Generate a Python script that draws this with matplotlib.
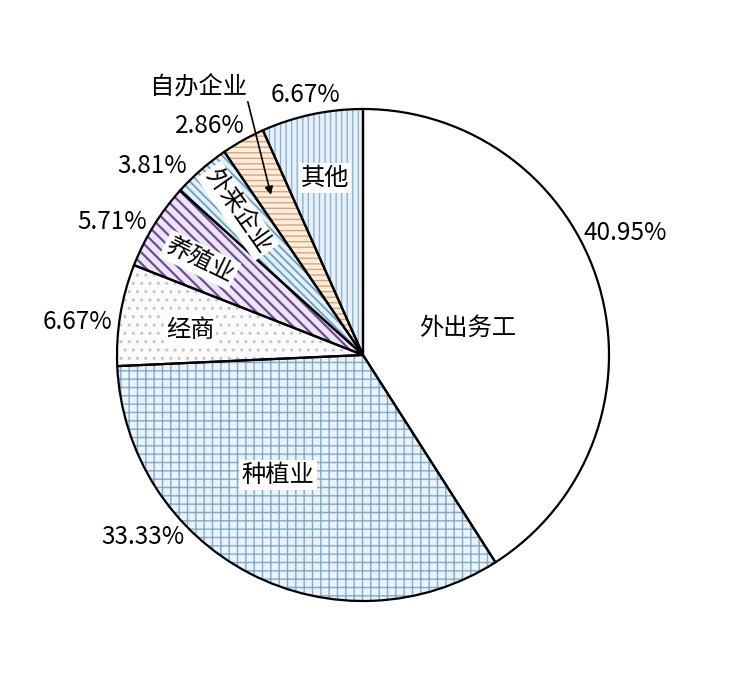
import matplotlib.pyplot as plt

plt.rcParams['font.family'] = ['Noto Sans CJK SC', 'DejaVu Sans']
plt.rcParams['hatch.linewidth'] = 1.0

# dati
categorie = ["外出务工", "种植业", "经商", "养殖业", "外来企业", "自办企业", "其他"]
quote = [40.95, 33.33, 6.67, 5.71, 3.81, 2.86, 6.67]
etichette_pct = ["40.95%", "33.33%", "6.67%", "5.71%", "3.81%", "2.86%", "6.67%"]

# stile fette
sfondi = ["white", "#eaf3fa", "#fbfbfb", "#efe6f5", "#e4f1f8", "#fbeee0", "#e6f0f8"]
col_tratteggio = ["white", "#7fa9cc", "#c4c4c4", "#6e4a9e", "#6d9fc6", "#e0a26e", "#8fb4d2"]
tratteggi = [None, "++", "..", "\\\\\\", "\\\\\\\\", "---", "|||"]
spessori = [1.0, 1.0, 1.0, 1.6, 1.3, 1.0, 1.0]

# geometria in pixel della torta nel riferimento
W, H = 752, 685
cx, cy, R = 363, 355, 246


def px(x, y):
    return (x - cx) / R, (cy - y) / R


fig = plt.figure(figsize=(W / 100, H / 100), dpi=100)
ax = fig.add_axes([0, 0, 1, 1])

# riempimento con tratteggio
fette, _ = ax.pie(quote, startangle=90, counterclock=False, radius=1,
                  wedgeprops=dict(linewidth=0))
for w, fc, hc, h, lw in zip(fette, sfondi, col_tratteggio, tratteggi, spessori):
    w.set_facecolor(fc)
    w.set_edgecolor(hc)
    if h:
        w.set_hatch(h)
    if hasattr(w, 'set_hatch_linewidth'):
        w.set_hatch_linewidth(lw)

# contorni neri
ax.pie(quote, startangle=90, counterclock=False, radius=1,
       wedgeprops=dict(facecolor='none', edgecolor='black', linewidth=1.6))

# limiti dopo pie (pie li reimposta)
ax.set_xlim(-cx / R, (W - cx) / R)
ax.set_ylim(-(H - cy) / R, cy / R)
ax.set_aspect('equal')
ax.axis('off')

fs = 17.5

# etichette percentuali
pos_pct = [(625, 233), (143, 537), (77, 322), (112, 222), (152, 166), (210, 126), (305, 95)]
for testo, (x, y) in zip(etichette_pct, pos_pct):
    ax.text(*px(x, y), testo, fontsize=fs, ha='center', va='center')

# etichette interne
box = dict(facecolor='white', edgecolor='none', pad=1.5)
interne = [(0, 468, 328, 0, None), (1, 278, 475, 0, box), (2, 190, 330, 0, box),
           (3, 200, 260, -26, box), (4, 238, 211, -55, box), (6, 325, 178, 0, box)]
for i, x, y, rot, b in interne:
    ax.text(*px(x, y), categorie[i], fontsize=fs, ha='center', va='center',
            rotation=rot, rotation_mode='anchor', bbox=b)

# etichetta con freccia
ax.annotate(categorie[5], xy=px(271, 195), xytext=px(198, 86), fontsize=fs,
            ha='center', va='center',
            arrowprops=dict(arrowstyle='-|>', color='black', lw=1.2,
                            shrinkA=0, shrinkB=0, mutation_scale=12,
                            relpos=(1.0, 0.1)))

fig.savefig('out.png', dpi=100)
